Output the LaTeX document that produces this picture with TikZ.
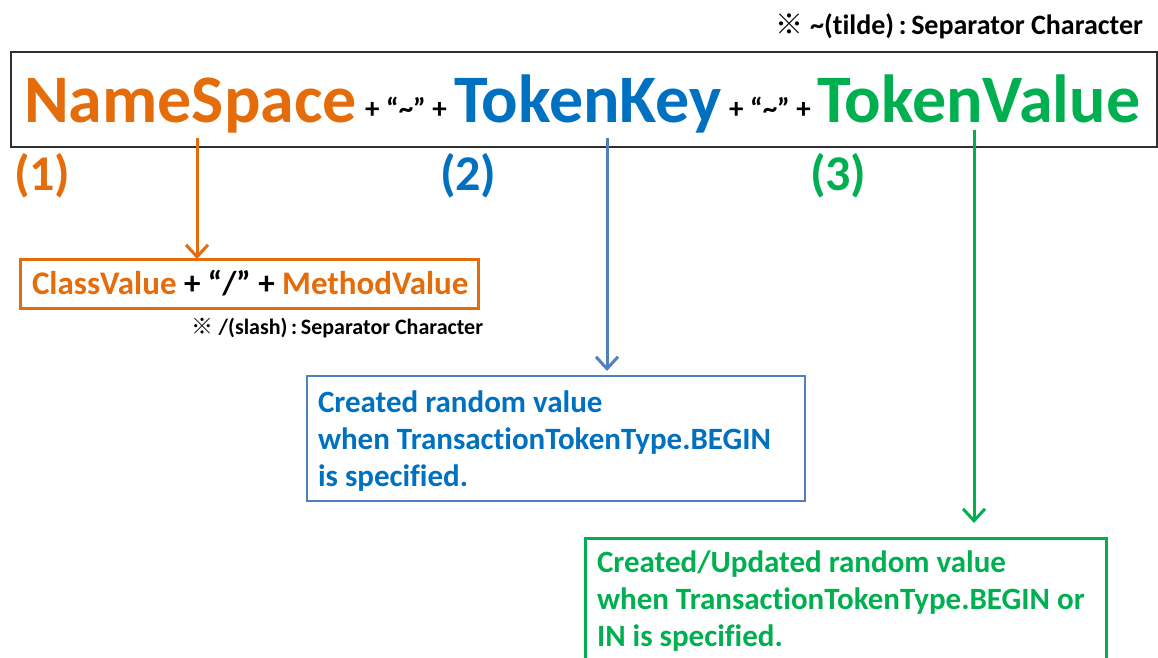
\documentclass[tikz,border=0pt]{standalone}
\usepackage{fontspec}
\setmainfont{Carlito}[Ligatures={NoCommon}]
\newfontfamily\cjk{Noto Sans CJK JP}
\usetikzlibrary{arrows.meta}
\definecolor{orn}{HTML}{E46C0A}
\definecolor{bluetxt}{HTML}{0070C0}
\definecolor{blueline}{HTML}{4F81BD}
\definecolor{grn}{HTML}{00B050}
\definecolor{boxgray}{HTML}{303030}
\begin{document}
\begin{tikzpicture}[x=1pt,y=-1pt,
  every node/.style={inner sep=0pt,outer sep=0pt},
  huge/.style={font=\bfseries\fontsize{68}{70}\selectfont},
  paren/.style={font=\bfseries\fontsize{50}{52}\selectfont},
  sepchar/.style={font=\bfseries\fontsize{29}{30}\selectfont,text=black},
  note/.style={font=\bfseries\fontsize{#1}{#1}\selectfont,text=black},
  boxtext/.style={font=\bfseries\fontsize{31}{37}\selectfont,align=left},
  conn/.style={line width=3pt,-{Straight Barb[length=12pt,width=22pt]}}]
\useasboundingbox (0,0) rectangle (1158,657);
\clip (0,0) rectangle (1158,657);

% top note
\node[note=28,anchor=base east] (tnote) at (1143,34) {{\cjk ※} \char"7E(tilde)\,:\,Separator Character};

% main key box
\node[draw=boxgray,line width=1.3pt,minimum width=1146,minimum height=95,anchor=north west] (keybox) at (11,52) {};
\node[huge,text=orn,anchor=base west] (ns) at (24,122) {NameSpace};
\node[sepchar,anchor=base] (s1) at (406,118) {+ “\char"7E” +};
\node[huge,text=bluetxt,anchor=base west] (tk) at (454,122) {TokenKey};
\node[sepchar,anchor=base] (s2) at (770,118) {+ “\char"7E” +};
\node[huge,text=grn,anchor=base west] (tv) at (817,122) {TokenValue};

% numbers
\node[paren,text=orn,anchor=base west] (n1) at (14,190) {(1)};
\node[paren,text=bluetxt,anchor=base west] (n2) at (440,190) {(2)};
\node[paren,text=grn,anchor=base west] (n3) at (810,190) {(3)};

% orange box
\node[draw=orn,line width=3pt,minimum width=458,minimum height=49,anchor=north west] (cbox) at (20,259) {};
\node[font=\bfseries\fontsize{33}{35}\selectfont,anchor=base west] (ctext) at (32,294)
  {\textcolor{orn}{ClassValue} + “/” + \textcolor{orn}{MethodValue}};
\node[note=22,anchor=base east] (snote) at (483,334) {{\cjk ※} /(slash)\,:\,Separator Character};

% blue box
\node[draw=blueline,line width=2.5pt,minimum width=498,minimum height=125,anchor=north west] (bbox) at (307,376) {};
\node[boxtext,text=bluetxt,anchor=north west] (btext) at (318,391)
  {Created random value\\when TransactionTokenType.BEGIN\\is specified.};

% green box
\node[draw=grn,line width=3pt,minimum width=521,minimum height=160,anchor=north west] (gbox) at (585,538) {};
\node[boxtext,text=grn,anchor=north west] (gtext) at (597,551)
  {Created/Updated random value\\when TransactionTokenType.BEGIN or\\IN is specified.};

% connectors
\coordinate (nsfoot) at (197,138);
\coordinate (tkfoot) at (607,138);
\coordinate (tvfoot) at (974,130);
\draw[conn,orn] (nsfoot) -- (nsfoot |- cbox.north);
\draw[conn,blueline,shorten >=5pt] (tkfoot) -- (tkfoot |- bbox.north);
\draw[conn,grn,shorten >=15pt] (tvfoot) -- (tvfoot |- gbox.north);
\end{tikzpicture}
\end{document}
